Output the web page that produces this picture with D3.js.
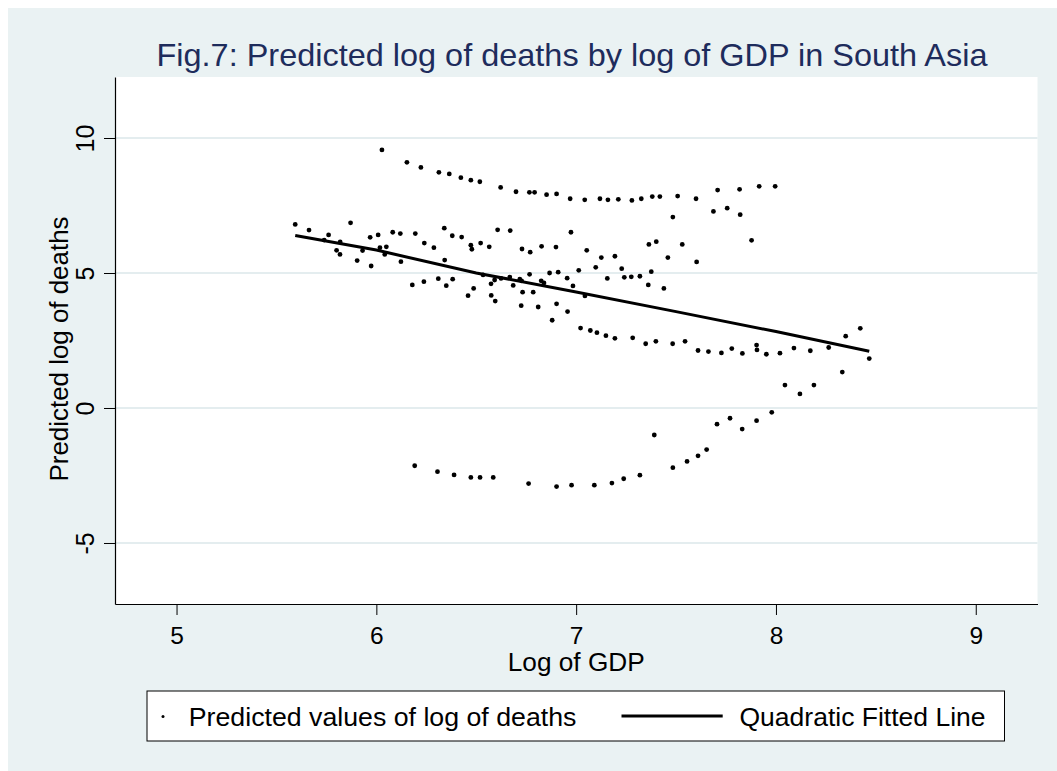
<!DOCTYPE html>
<html>
<head>
<meta charset="utf-8">
<script src="https://cdn.jsdelivr.net/npm/d3@7/dist/d3.min.js"></script>
<style>
  html, body { margin: 0; padding: 0; background: #ffffff; }
  svg { display: block; }
  text { font-family: "Liberation Sans", Arial, Helvetica, sans-serif; }
</style>
</head>
<body>
<svg id="chart" width="1057" height="771"></svg>
<script>
// Log of GDP (x) and predicted log of deaths (y) for each country-year
const gdpLog = [
  6.028, 6.153, 6.223, 6.313, 6.365, 6.423, 6.473, 6.518, 6.622, 6.699,
  6.766, 6.792, 6.852, 6.902, 6.970, 7.043, 7.119, 7.159, 7.211, 7.279,
  7.326, 7.381, 7.419, 7.508, 7.600, 7.708, 7.818, 7.916, 7.996,
  7.484, 7.687, 7.756, 7.821, 7.878, 6.974, 7.401, 7.364, 7.531, 7.603,
  7.459, 6.729, 6.770, 6.827, 6.899, 7.053, 7.126, 7.194, 7.098, 7.013,
  7.228, 7.156, 7.241, 7.276, 7.319, 7.376, 7.361, 7.439, 6.955, 6.910,
  6.867, 6.767, 6.727, 6.825, 6.839, 6.732, 6.785, 6.984, 7.044, 6.725,
  6.810, 6.902, 6.957, 6.880,
  7.022, 7.071, 7.104, 7.149, 7.194, 7.283, 7.348, 7.399, 7.483, 7.545,
  7.610, 7.662, 7.727, 7.779, 7.832, 7.903, 7.905, 7.952, 8.020, 8.090,
  8.172, 8.264, 8.467, 8.349, 8.422, 8.332, 8.045, 8.120, 8.190,
  7.979, 7.903, 7.831, 7.770, 7.705, 7.653, 7.610, 7.555, 7.484, 7.391,
  6.192, 6.306, 6.389, 6.473, 6.519, 6.585, 6.762, 6.902, 6.977, 7.091,
  7.179, 7.238, 7.319,
  5.594, 5.663, 5.761, 5.739, 5.819, 5.801, 5.818, 5.871, 5.904, 5.931,
  5.974, 5.969, 6.009, 6.018, 6.050, 6.042, 6.082, 6.120, 6.123, 6.195,
  6.240, 6.288, 6.340, 6.380, 6.427, 6.342, 6.180, 6.238, 6.310, 6.350,
  6.382, 6.459, 6.487, 6.473, 6.478, 6.522, 6.565, 6.607, 6.670, 6.534,
  6.574, 6.592, 6.624, 6.575, 6.595, 6.685, 6.718, 6.668
];
const deathsLog = [
  9.56, 9.10, 8.91, 8.73, 8.67, 8.53, 8.44, 8.38, 8.17, 8.01,
  7.99, 7.99, 7.90, 7.93, 7.75, 7.71, 7.75, 7.71, 7.73, 7.69,
  7.75, 7.83, 7.83, 7.85, 7.75, 8.07, 8.10, 8.21, 8.21,
  7.07, 7.28, 7.40, 7.16, 6.21, 6.51, 6.16, 6.06, 6.06, 5.41,
  5.57, 5.89, 5.77, 5.99, 5.96, 5.84, 5.57, 5.62, 5.21, 5.10,
  5.16, 4.80, 4.84, 4.86, 4.88, 5.05, 4.56, 4.43, 4.81, 5.03,
  5.00, 4.95, 4.71, 4.71, 4.63, 4.29, 4.29, 4.52, 4.15, 3.79,
  3.74, 3.86, 3.57, 3.25,
  2.96, 2.87, 2.79, 2.68, 2.58, 2.60, 2.38, 2.47, 2.38, 2.47,
  2.13, 2.09, 2.04, 2.20, 2.02, 2.33, 2.15, 1.99, 2.03, 2.22,
  2.12, 2.24, 1.83, 2.66, 2.95, 1.33, 0.85, 0.52, 0.85,
  -0.16, -0.47, -0.78, -0.38, -0.60, -1.54, -1.77, -1.98, -2.21, -1.00,
  -2.14, -2.36, -2.48, -2.57, -2.57, -2.57, -2.80, -2.91, -2.86, -2.86,
  -2.78, -2.62, -2.49,
  6.80, 6.59, 6.41, 6.22, 6.15, 5.84, 5.69, 6.86, 5.46, 5.83,
  5.26, 6.32, 6.41, 5.94, 5.97, 5.69, 6.51, 6.46, 5.42, 6.46,
  6.11, 5.94, 6.66, 6.38, 6.33, 5.48, 4.56, 4.68, 4.79, 4.53,
  4.77, 4.16, 4.43, 6.03, 5.88, 6.11, 5.97, 6.60, 6.57, 4.93,
  4.60, 4.74, 4.80, 4.17, 3.96, 4.54, 4.77, 4.85
];

// Quadratic fitted line, evaluated along the GDP range
const fitX = [5.594, 6.0, 6.5, 7.0, 7.5, 8.0, 8.467];
const fitY = [6.39, 5.85, 5.00, 4.30, 3.57, 2.83, 2.10];

const xTicks = [5, 6, 7, 8, 9];
const yTicks = [-5, 0, 5, 10];

const titleText = "Fig.7: Predicted log of deaths by log of GDP in South Asia";
const xTitle = "Log of GDP";
const yTitle = "Predicted log of deaths";
const legendLabels = ["Predicted values of log of deaths", "Quadratic Fitted Line"];

const svg = d3.select("#chart");
const bgColor = "#eaf2f3";
const ink = "#000000";
const plainNumber = d => String(d);   // keeps the ASCII hyphen for negatives

// Outer graph region
svg.append("rect")
  .attr("x", 8).attr("y", 8).attr("width", 1049).attr("height", 763)
  .attr("fill", bgColor);

// Plot region
const plot = { left: 115, right: 1037.5, top: 77, bottom: 604 };
const x = d3.scaleLinear().domain([4.692, 9.309]).range([plot.left, plot.right]);
const y = d3.scaleLinear().domain([-7.26, 12.26]).range([plot.bottom, plot.top]);

svg.append("rect")
  .attr("x", plot.left).attr("y", plot.top)
  .attr("width", plot.right - plot.left).attr("height", plot.bottom - plot.top)
  .attr("fill", "#ffffff");

// Horizontal grid lines
svg.append("g").selectAll("line").data(yTicks).join("line")
  .attr("x1", plot.left).attr("x2", plot.right)
  .attr("y1", d => y(d)).attr("y2", d => y(d))
  .attr("stroke", "#e4edef").attr("stroke-width", 2);

// Axes
const xAxis = svg.append("g")
  .attr("transform", `translate(0,${plot.bottom})`)
  .call(d3.axisBottom(x).tickValues(xTicks).tickSize(11).tickSizeOuter(0).tickFormat(plainNumber));
xAxis.select(".domain").attr("stroke", ink).attr("stroke-width", 1.2);
xAxis.selectAll(".tick line").attr("stroke", ink).attr("stroke-width", 1);
xAxis.selectAll(".tick text")
  .attr("y", 39.5).attr("dy", 0)
  .attr("fill", ink)
  .style("font-size", "24.5px")
  .style("font-family", "'Liberation Sans', Arial, sans-serif");

const yAxis = svg.append("g")
  .attr("transform", `translate(${plot.left},0)`)
  .call(d3.axisLeft(y).tickValues(yTicks).tickSize(11).tickSizeOuter(0).tickFormat(plainNumber));
yAxis.select(".domain").attr("stroke", ink).attr("stroke-width", 1.2);
yAxis.selectAll(".tick line").attr("stroke", ink).attr("stroke-width", 1);
yAxis.selectAll(".tick text")
  .attr("x", 0).attr("y", 0).attr("dy", 0)
  .attr("text-anchor", "middle")
  .attr("transform", "translate(-21,0) rotate(-90)")
  .attr("fill", ink)
  .style("font-size", "25px")
  .style("font-family", "'Liberation Sans', Arial, sans-serif");

// Axis titles
svg.append("text")
  .attr("x", (plot.left + plot.right) / 2).attr("y", 671)
  .attr("text-anchor", "middle")
  .attr("textLength", 137).attr("lengthAdjust", "spacingAndGlyphs")
  .style("font-size", "25px").attr("fill", ink)
  .text(xTitle);

svg.append("text")
  .attr("transform", "translate(68,349) rotate(-90)")
  .attr("text-anchor", "middle")
  .attr("textLength", 265).attr("lengthAdjust", "spacingAndGlyphs")
  .style("font-size", "26px").attr("fill", ink)
  .text(yTitle);

// Title
svg.append("text")
  .attr("x", 572).attr("y", 66)
  .attr("text-anchor", "middle")
  .attr("textLength", 831).attr("lengthAdjust", "spacingAndGlyphs")
  .style("font-size", "32px").attr("fill", "#1e2c5c")
  .text(titleText);

// Scatter points
const pts = gdpLog.map((g, i) => ({ g, d: deathsLog[i] }));
svg.append("g").selectAll("circle").data(pts).join("circle")
  .attr("cx", d => x(d.g)).attr("cy", d => y(d.d))
  .attr("r", 2.4).attr("fill", ink);

// Fitted line
const fit = fitX.map((g, i) => [g, fitY[i]]);
svg.append("path")
  .datum(fit)
  .attr("d", d3.line().x(d => x(d[0])).y(d => y(d[1])))
  .attr("fill", "none").attr("stroke", ink).attr("stroke-width", 3);

// Legend
const legend = svg.append("g");
legend.append("rect")
  .attr("x", 147).attr("y", 691).attr("width", 857.5).attr("height", 50)
  .attr("fill", "#ffffff").attr("stroke", ink).attr("stroke-width", 1);
legend.append("circle").attr("cx", 163).attr("cy", 716.5).attr("r", 1.5).attr("fill", ink);
legend.append("text")
  .attr("x", 188.8).attr("y", 726)
  .attr("textLength", 387.6).attr("lengthAdjust", "spacingAndGlyphs")
  .style("font-size", "26.7px").attr("fill", ink)
  .text(legendLabels[0]);
legend.append("line")
  .attr("x1", 621.5).attr("x2", 722.7).attr("y1", 716).attr("y2", 716)
  .attr("stroke", ink).attr("stroke-width", 3);
legend.append("text")
  .attr("x", 739.5).attr("y", 726)
  .attr("textLength", 246).attr("lengthAdjust", "spacingAndGlyphs")
  .style("font-size", "26.7px").attr("fill", ink)
  .text(legendLabels[1]);
</script>
</body>
</html>
